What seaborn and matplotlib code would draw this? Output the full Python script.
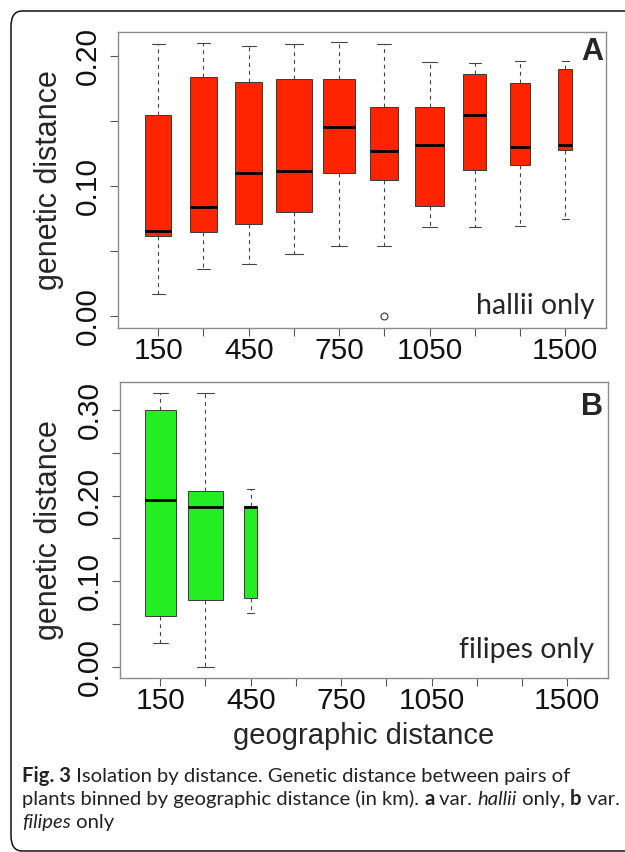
import matplotlib
matplotlib.use("Agg")
import matplotlib.pyplot as plt
import seaborn as sns
from matplotlib.patches import FancyBboxPatch

# geographic distance bins (km) and their tick labels
dist_bins = [150, 300, 450, 600, 750, 900, 1050, 1200, 1350, 1500]
dist_labels = ['150', '', '450', '', '750', '', '1050', '', '', '1500']

# var. hallii -- box summaries
hallii_low = [0.0174, 0.0361, 0.0400, 0.0482, 0.0538, 0.0538, 0.0686, 0.0686, 0.0694, 0.0751]
hallii_q1 = [0.0620, 0.0651, 0.0710, 0.0800, 0.1102, 0.1045, 0.0845, 0.1127, 0.1158, 0.1276]
hallii_med = [0.0656, 0.0840, 0.1102, 0.1115, 0.1450, 0.1268, 0.1314, 0.1543, 0.1299, 0.1317]
hallii_q3 = [0.1543, 0.1837, 0.1801, 0.1822, 0.1822, 0.1604, 0.1604, 0.1860, 0.1789, 0.1899]
hallii_high = [0.2091, 0.2094, 0.2075, 0.2091, 0.2103, 0.2088, 0.1950, 0.1947, 0.1962, 0.1962]
hallii_out = [[], [], [], [], [], [0.0], [], [], [], []]
# R varwidth -> box width in km (~ sqrt(n))
hallii_boxw = [86, 91, 91, 121, 105, 94, 95, 77, 69, 45]

# var. filipes
filipes_bins = [150, 300, 450]
filipes_low = [0.0280, 0.0000, 0.0623]
filipes_q1 = [0.0592, 0.0779, 0.0802]
filipes_med = [0.1948, 0.1862, 0.1870]
filipes_q3 = [0.2996, 0.2049, 0.1878]
filipes_high = [0.3198, 0.3198, 0.2072]
filipes_out = [[], [], []]
filipes_boxw = [103, 119, 45]

W, H = 625, 852
sns.set_style("white")
plt.rcParams['font.family'] = ['Liberation Sans', 'DejaVu Sans']

fig = plt.figure(figsize=(W / 100, H / 100), dpi=100)


def px_box(left, top, right, bottom):
    return [left / W, 1 - bottom / H, (right - left) / W, (bottom - top) / H]


def draw_panel(ax, pos, lo, q1, med, q3, hi, out, boxw, color):
    stats = []
    for a, b, c, d, e, f in zip(lo, q1, med, q3, hi, out):
        stats.append(dict(whislo=a, q1=b, med=c, q3=d, whishi=e, fliers=f))
    ax.bxp(stats, positions=pos, widths=boxw, capwidths=[w * 0.5 for w in boxw],
           patch_artist=True, manage_ticks=False,
           boxprops=dict(facecolor=color, edgecolor='#3a3a3a', linewidth=0.7),
           medianprops=dict(color='black', linewidth=2.0, solid_capstyle='butt'),
           whiskerprops=dict(color='#444444', linewidth=0.8, linestyle=(0, (3.5, 3.5))),
           capprops=dict(color='#444444', linewidth=0.8),
           flierprops=dict(marker='o', markersize=5, markerfacecolor='none',
                           markeredgecolor='#333333', markeredgewidth=0.8))
    ax.set_xlim(15, 1635)
    ax.set_xticks(dist_bins)
    ax.set_xticklabels(dist_labels)
    for sp in ax.spines.values():
        sp.set_visible(True)
        sp.set_color('#8a8a8a')
        sp.set_linewidth(1.0)
    ax.tick_params(axis='both', direction='out', length=5.6, width=0.8,
                   color='#555555', labelsize=21.5, labelcolor='#111111')
    ax.tick_params(axis='x', pad=1.0, bottom=True)
    ax.tick_params(axis='y', pad=6.0, left=True)
    ax.grid(False)


# panel A
axA = fig.add_axes(px_box(117.6, 32, 605.8, 327.5))
draw_panel(axA, dist_bins, hallii_low, hallii_q1, hallii_med, hallii_q3,
           hallii_high, hallii_out, hallii_boxw, '#ff2400')
axA.set_ylim(-0.0085, 0.2182)
axA.set_yticks([0.0, 0.05, 0.10, 0.15, 0.20])
axA.set_yticklabels(['0.00', '', '0.10', '', '0.20'], rotation=90, va='center')
axA.set_ylabel('genetic distance', fontsize=22)
axA.yaxis.set_label_coords(-0.110, 0.5)
axA.text(0.994, 0.905, 'A', transform=axA.transAxes, ha='right', va='baseline',
         fontsize=22, fontweight='bold')
axA.text(0.978, 0.047, 'hallii only', transform=axA.transAxes, ha='right',
         va='baseline', fontsize=20.5, family=['Lato', 'DejaVu Sans'])

# panel B
axB = fig.add_axes(px_box(119.6, 382.3, 607.8, 678.3))
draw_panel(axB, filipes_bins, filipes_low, filipes_q1, filipes_med, filipes_q3,
           filipes_high, filipes_out, filipes_boxw, '#22ee22')
axB.set_ylim(-0.0136, 0.3324)
axB.set_yticks([0.0, 0.05, 0.10, 0.15, 0.20, 0.25, 0.30])
axB.set_yticklabels(['0.00', '', '0.10', '', '0.20', '', '0.30'], rotation=90, va='center')
axB.set_ylabel('genetic distance', fontsize=22)
axB.yaxis.set_label_coords(-0.114, 0.5)
axB.set_xlabel('geographic distance', fontsize=21)
axB.xaxis.set_label_coords(0.5, -0.1476)
axB.text(0.990, 0.889, 'B', transform=axB.transAxes, ha='right', va='baseline',
         fontsize=22, fontweight='bold')
axB.text(0.972, 0.069, 'filipes only', transform=axB.transAxes, ha='right',
         va='baseline', fontsize=20.5, family=['Lato', 'DejaVu Sans'])

# caption, drawn run by run so bold / italic words sit inline
cap_font = ['Lato', 'DejaVu Sans']
cap_size = 14.6
cap_lines = [
    [("Fig. 3", 'bold', 'normal'),
     (" Isolation by distance. Genetic distance between pairs of", 'normal', 'normal')],
    [("plants binned by geographic distance (in km). ", 'normal', 'normal'),
     ("a", 'bold', 'normal'), (" var. ", 'normal', 'normal'),
     ("hallii", 'normal', 'italic'), (" only, ", 'normal', 'normal'),
     ("b", 'bold', 'normal'), (" var.", 'normal', 'normal')],
    [("filipes", 'normal', 'italic'), (" only", 'normal', 'normal')],
]
cap_baselines = [782, 805, 828]

renderer = fig.canvas.get_renderer()
for line, base in zip(cap_lines, cap_baselines):
    x = 22.0
    for txt, wt, st in line:
        kw = dict(fontsize=cap_size, family=cap_font, fontweight=wt, fontstyle=st,
                  ha='left', va='baseline', color='#222222')
        t = fig.text(x / W, 1 - base / H, txt, **kw)
        probe = fig.text(0, 0, txt + '|', **kw)
        bar = fig.text(0, 0, '|', **kw)
        adv = probe.get_window_extent(renderer).width - bar.get_window_extent(renderer).width
        probe.remove()
        bar.remove()
        x += adv

# rounded frame around the whole figure (runs off the right and bottom)
frame = FancyBboxPatch((11 / W, 1 - 851 / H), (640 - 11) / W, (851 - 11) / H,
                       boxstyle='round,pad=0,rounding_size=0.018',
                       transform=fig.transFigure, fill=False,
                       edgecolor='#111111', linewidth=1.1)
fig.add_artist(frame)

fig.savefig('out.png', dpi=100)
